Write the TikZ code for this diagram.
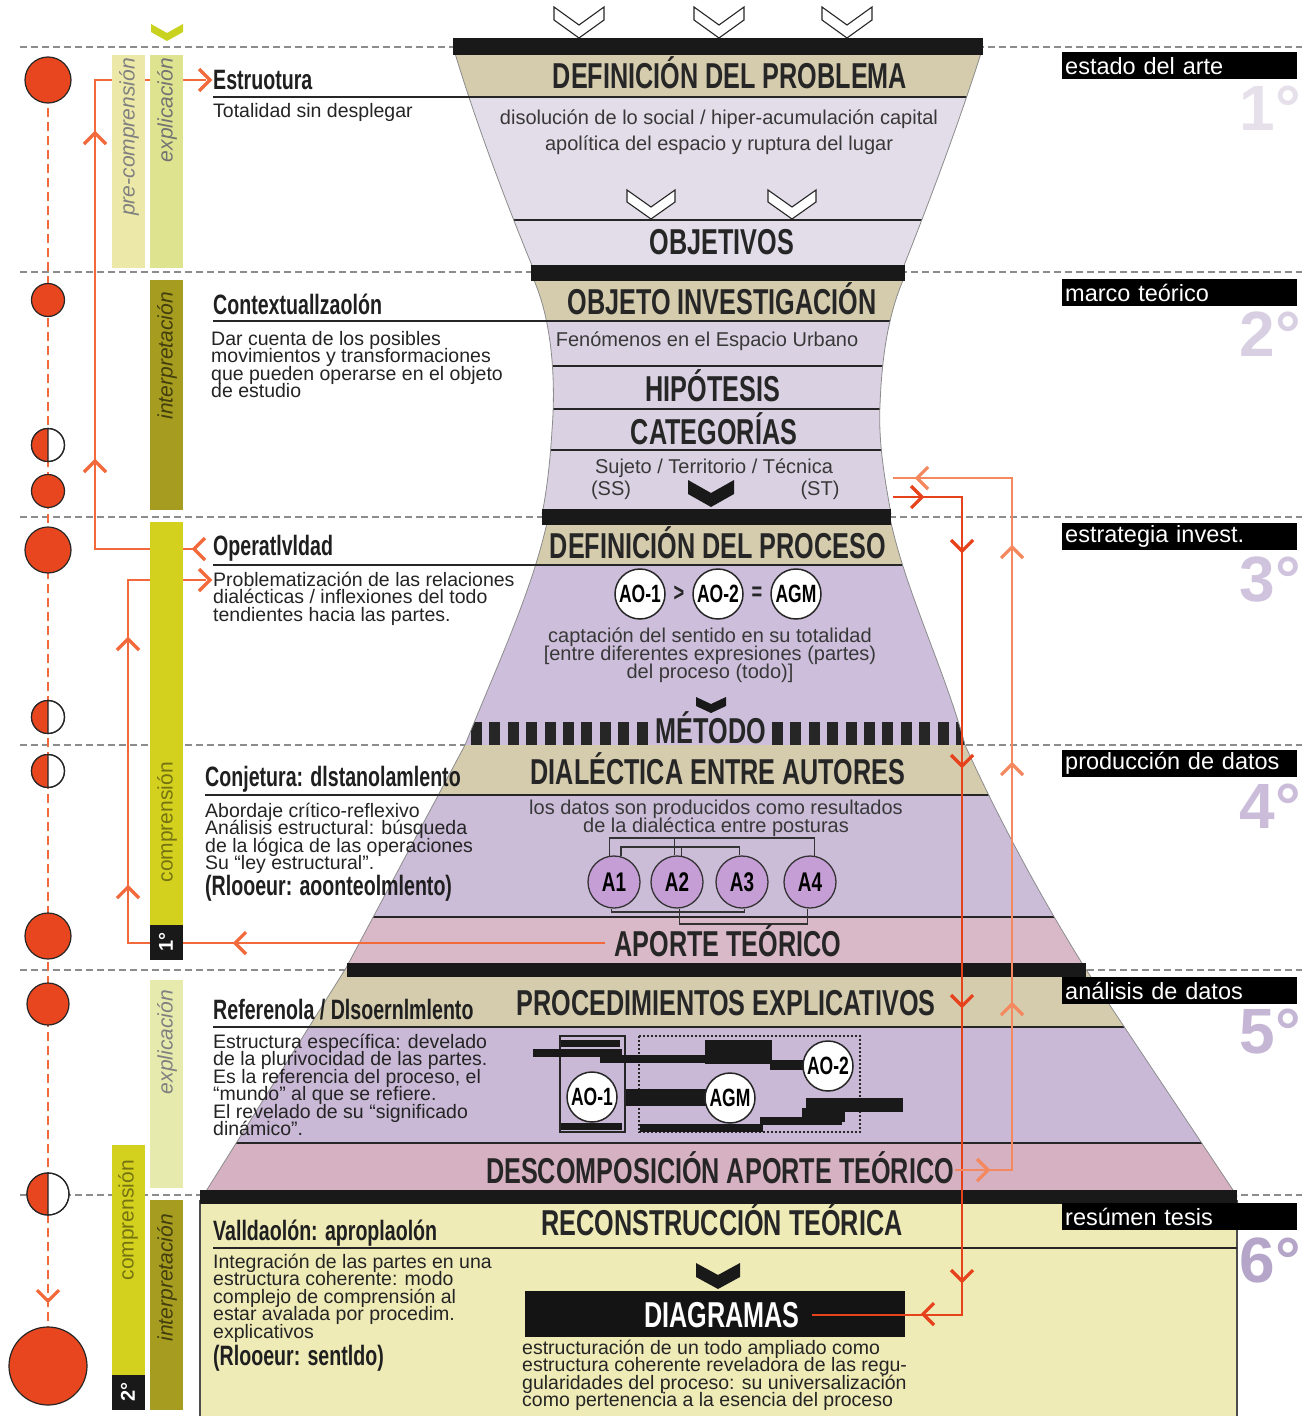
\documentclass[tikz,border=0pt]{standalone}
\usepackage{fontspec}
\setmainfont{Liberation Sans}
\newfontfamily\hfont[FakeStretch=0.7]{Liberation Sans Bold}
\newfontfamily\bfont{Liberation Sans}
\newfontfamily\ifont{Liberation Sans Italic}
\newfontfamily\nfont{Liberation Sans Bold}
\usetikzlibrary{calc}
\lineskiplimit=-100pt

\definecolor{beige}{HTML}{D5CCAE}
\definecolor{lavA}{HTML}{E2DDE9}
\definecolor{lavB}{HTML}{DAD1E2}
\definecolor{lavC}{HTML}{CDBFDB}
\definecolor{lavD}{HTML}{CBBCD8}
\definecolor{lavE}{HTML}{C9B9D6}
\definecolor{pinkA}{HTML}{D9B9C7}
\definecolor{pinkB}{HTML}{D6B1C1}
\definecolor{ylw}{HTML}{EFEBB7}
\definecolor{orL}{HTML}{F26A3C}
\definecolor{orR}{HTML}{E6421C}
\definecolor{orP}{HTML}{F4895F}
\definecolor{circ}{HTML}{E8461E}
\definecolor{barPale}{HTML}{ECE9A8}
\definecolor{barLime}{HTML}{DEE390}
\definecolor{barOlive}{HTML}{A69C20}
\definecolor{barYel}{HTML}{D4D11E}
\definecolor{chevY}{HTML}{C8D21F}
\definecolor{dashG}{HTML}{8C8C8C}
\definecolor{lilac}{HTML}{C69ED6}
\definecolor{numA}{HTML}{E6E0EB}
\definecolor{numB}{HTML}{D9CFE3}
\definecolor{numC}{HTML}{CFC3DD}
\definecolor{numD}{HTML}{CBBDDA}
\definecolor{numE}{HTML}{C5B6D5}
\definecolor{numF}{HTML}{B5A6C9}

\tikzset{
  hd/.style={font=\hfont\fontsize{36}{36}\selectfont, inner sep=0pt, anchor=base, text=black!85},
  lh/.style={font=\hfont\fontsize{28}{28}\selectfont, inner sep=0pt, anchor=base west, text=black!88},
  txt/.style={font=\bfont\fontsize{19.5}{17.5}\selectfont, inner sep=0pt, anchor=base west, align=left, text=black!86},
  ftxt/.style={font=\bfont\fontsize{20}{18}\selectfont, inner sep=0pt, anchor=base, align=center, text=black!78},
  tag/.style={fill=black, text=white, font=\bfont\fontsize{23.5}{24}\selectfont, anchor=north west, minimum height=27pt, text width=229pt, inner xsep=3pt, inner ysep=0pt, align=left},
  deg/.style={font=\nfont\fontsize{64}{64}\selectfont, inner sep=0pt, anchor=base east},
  barlbl/.style={rotate=90, anchor=east, inner sep=0pt, font=\ifont\fontsize{21}{21}\selectfont},
  dot/.style={circle, draw=black!85, line width=1.2pt, fill=circ, inner sep=0pt},
  aoc/.style={circle, draw=black!85, line width=1.5pt, fill=white, inner sep=0pt, minimum size=#1, font=\hfont\fontsize{25}{25}\selectfont},
  acirc/.style={circle, draw=black!80, line width=1.3pt, fill=lilac, inner sep=0pt, minimum size=52pt, font=\hfont\fontsize{27}{27}\selectfont},
  band/.style={line width=2.6pt, draw=black!85},
  uline/.style={line width=2.6pt, draw=black!85},
  edge/.style={draw=black!45, line width=0.8pt},
  gdash/.style={draw=dashG, line width=1.6pt, dash pattern=on 7pt off 4pt},
  lnk/.style={line width=1.4pt, draw=black!80},
  pics/chv/.style={code={\draw[line width=3.2pt, line join=miter, #1] (-10,-11) -- (1,0) -- (-10,11);}},
}

% half orange / half white phase marker
\newcommand{\halfdisc}[4]{%
  \node[dot, fill=white, minimum size=#4*2pt] (#1) at (#2,#3) {};
  \begin{scope}
    \clip (#2-#4-3,#3-#4-3) rectangle (#2,#3+#4+3);
    \fill[circ] (#2,#3) circle[radius=#4];
  \end{scope}
  \draw[black!85, line width=1.2pt] (#2,#3) circle[radius=#4] (#2,#3-#4) -- (#2,#3+#4);
}
% chevron: x, tip y, half width, height, thickness, fill options
\newcommand{\chevshape}[6]{%
  \fill[#6] (#1-#3,#2-#4) -- (#1,#2-#5) -- (#1+#3,#2-#4) -- (#1+#3,#2-#4+#5) -- (#1,#2) -- (#1-#3,#2-#4+#5) -- cycle;
}

\begin{document}
\begin{tikzpicture}[x=1pt,y=-1pt]
\useasboundingbox (0,0) rectangle (1308,1416);
\fill[white] (0,0) rectangle (1308,1416);

% phase separators
\foreach \yy in {47,272,517,745,970,1195} {\draw[gdash] (20,\yy) -- (1302,\yy);}

% ---------- funnel, phase 1 ----------
\def\funA{(454,50) .. controls (475,120) and (505,200) .. (533,268) -- (903,268) .. controls (930,200) and (960,120) .. (982,50) -- cycle}
\begin{scope}
  \clip \funA;
  \fill[lavA] (400,40) rectangle (1000,270);
  \fill[beige] (400,40) rectangle (1000,97);
  \draw[band] (400,97) -- (1000,97);
  \draw[band] (400,220) -- (1000,220);
\end{scope}
\draw[edge] \funA;

% ---------- funnel, phase 2 ----------
\def\funB{(533,278) .. controls (552,320) and (556,380) .. (552,430) .. controls (550,465) and (546,495) .. (542,514) -- (891,514) .. controls (886,485) and (878,445) .. (880,405) .. controls (882,350) and (890,310) .. (904,278) -- cycle}
\begin{scope}
  \clip \funB;
  \fill[lavB] (400,270) rectangle (1000,520);
  \fill[beige] (400,270) rectangle (1000,321);
  \foreach \yy in {321,366,409,450} {\draw[band] (400,\yy) -- (1000,\yy);}
\end{scope}
\draw[edge] \funB;

% ---------- funnel, phases 3 to 5 ----------
\def\funC{(548,518) .. controls (533,590) and (495,670) .. (465,745) -- (346,968) -- (203,1196) -- (1237,1196) -- (1085,968) .. controls (1030,880) and (990,800) .. (965,745) .. controls (945,670) and (905,590) .. (890,518) -- cycle}
\begin{scope}
  \clip \funC;
  \fill[lavC] (150,510) rectangle (1300,745);
  \fill[beige] (150,510) rectangle (1300,565);
  \fill[beige] (150,745) rectangle (1300,795);
  \fill[lavD] (150,795) rectangle (1300,917);
  \fill[pinkA] (150,917) rectangle (1300,970);
  \fill[beige] (150,970) rectangle (1300,1027);
  \fill[lavE] (150,1027) rectangle (1300,1143);
  \fill[pinkB] (150,1143) rectangle (1300,1200);
  \foreach \i in {0,...,9} {\fill[black!85] (471+\i*18.4,722) rectangle ++(11,23);}
  \foreach \i in {0,...,10} {\fill[black!85] (772+\i*18.4,722) rectangle ++(11,23);}
  \foreach \yy in {565,795,917,1027,1143} {\draw[band] (150,\yy) -- (1300,\yy);}
\end{scope}
\draw[edge] \funC;

% ---------- phase 6 box ----------
\fill[ylw] (200,1196) rectangle (1237,1416);
\draw[black!70, line width=1.3pt] (200,1200) -- (200,1416) (1237,1200) -- (1237,1416);

% thick separators of the funnel
\fill[black!90] (453,38) rectangle (983,55);
\fill[black!90] (531,265) rectangle (905,281);
\fill[black!90] (542,509) rectangle (891,525);
\fill[black!90] (347,963) rectangle (1086,977);
\fill[black!90] (200,1190) rectangle (1237,1204);

% heading underlines running into the funnel
\draw[uline] (213,97) -- (500,97);
\draw[uline] (213,321) -- (560,321);
\draw[uline] (213,565) -- (560,565);
\draw[uline] (205,795) -- (460,795);
\draw[uline] (213,1027) -- (330,1027);
\draw[uline] (213,1248) -- (1237,1248);

% entry chevrons
\foreach \cx in {579,719,847} {\chevshape{\cx}{38}{25}{31}{13}{white, draw=black!85, line width=1.1pt}}
\foreach \cx in {651,792} {\chevshape{\cx}{219}{24}{29}{12}{white, draw=black!85, line width=1.1pt}}
\chevshape{711}{507}{23}{27}{14}{black!90}
\chevshape{711}{713}{15}{16}{9}{black!90}
\chevshape{718}{1289}{22}{26}{14}{black!90}
\chevshape{167}{41}{16}{17}{8}{chevY}

% ---------- funnel texts ----------
\node[hd] (hProb) at (730,88) {DEFINICIÓN DEL PROBLEMA};
\node[ftxt] (tProb) at (719,150) {disolución de lo social / hiper-acumulación capital\\[8pt]apolítica del espacio y ruptura del lugar};
\node[hd] (hObj) at (722,254) {OBJETIVOS};
\node[hd] (hOI) at (722,314) {OBJETO INVESTIGACIÓN};
\node[ftxt] (tFen) at (707,346) {Fenómenos en el Espacio Urbano};
\node[hd] (hHip) at (713,401) {HIPÓTESIS};
\node[hd] (hCat) at (714,444) {CATEGORÍAS};
\node[ftxt] (tSuj) at (714,473) {Sujeto / Territorio / Técnica};
\node[ftxt] (tSS) at (611,495) {(SS)};
\node[ftxt] (tST) at (820,495) {(ST)};
\node[hd] (hDP) at (718,558) {DEFINICIÓN DEL PROCESO};
\node[aoc=50pt] (p1) at (640,594) {AO-1};
\node[aoc=50pt] (p2) at (718,594) {AO-2};
\node[aoc=50pt] (p3) at (796,594) {AGM};
\node[font=\hfont\fontsize{26}{26}\selectfont, inner sep=0pt, text=black!85] (gt) at (679,594) {>};
\node[font=\hfont\fontsize{26}{26}\selectfont, inner sep=0pt, text=black!85] (eq) at (757,594) {=};
\node[ftxt] (tCap) at (710,678) {captación del sentido en su totalidad\\{}[entre diferentes expresiones (partes)\\del proceso (todo)]};
\node[hd] (hMet) at (711,743) {MÉTODO};
\node[hd] (hDia) at (718,784) {DIALÉCTICA ENTRE AUTORES};
\node[ftxt] (tDat) at (716,832) {los datos son producidos como resultados\\de la dialéctica entre posturas};

\node[acirc] (A1) at (614,882) {A1};
\node[acirc] (A2) at (677,882) {A2};
\node[acirc] (A3) at (742,882) {A3};
\node[acirc] (A4) at (810,882) {A4};
\draw[lnk] (A1.100) |- (A4.80 |- 0,838) -- (A4.80);
\draw[lnk] (A2.95) -- (A2.95 |- 0,838);
\draw[lnk] (A1.75) |- (A3.95 |- 0,847) -- (A3.95);
\draw[lnk] (A2.80) -- (A2.80 |- 0,847);
\draw[lnk] (A1.265) |- (A3.275 |- 0,912) -- (A3.275);
\draw[lnk] (A2.275) |- (A4.265 |- 0,924) -- (A4.265);

\node[hd] (hApo) at (728,956) {APORTE TEÓRICO};
\node[hd] (hProc) at (726,1015) {PROCEDIMIENTOS EXPLICATIVOS};

% explanatory procedures scheme
\draw[black!85, line width=1.3pt] (560,1036) rectangle (625,1132);
\draw[black!85, line width=1.3pt, dash pattern=on 2pt off 2pt] (639,1036) rectangle (860,1132);
\fill[black!90] (533,1049) rectangle (622,1057);
\fill[black!90] (561,1040) rectangle (620,1047);
\fill[black!90] (600,1055) rectangle (706,1063);
\fill[black!90] (705,1040) rectangle (772,1064);
\fill[black!90] (770,1060) rectangle (805,1070);
\fill[black!90] (626,1089) rectangle (706,1106);
\fill[black!90] (806,1098) rectangle (903,1112);
\fill[black!90] (802,1108) rectangle (845,1122);
\fill[black!90] (760,1117) rectangle (842,1125);
\fill[black!90] (640,1124) rectangle (763,1132);
\fill[black!90] (561,1123) rectangle (622,1130);
\node[aoc=50pt] (q1) at (592,1097) {AO-1};
\node[aoc=50pt] (q2) at (730,1098) {AGM};
\node[aoc=50pt] (q3) at (828,1066) {AO-2};

\node[hd] (hDesc) at (720,1183) {DESCOMPOSICIÓN APORTE TEÓRICO};
\node[hd] (hRec) at (722,1235) {RECONSTRUCCIÓN TEÓRICA};
\fill[black!92] (525,1291) rectangle (905,1337);
\node[hd, text=white] (hDiag) at (722,1327) {DIAGRAMAS};
\node[txt] (tEst) at (522,1406.5) {estructuración de un todo ampliado como\\estructura coherente reveladora de las regu-\\gularidades del proceso: su universalización\\como pertenencia a la esencia del proceso};

% ---------- right loops ----------
\coordinate (rA1) at (893,497);
\coordinate (rA2) at (962,497);
\draw[orR, line width=2pt] (rA1) -- (rA2) -- (rA2 |- hDiag.east) -- ([xshift=12pt]hDiag.east);
\pic at (921,497) {chv=orR};
\foreach \yy in {550,765,1005,1280} {\pic[rotate=-90] at (962,\yy) {chv=orR};}
\pic[rotate=180] at (924,1314) {chv=orR};

\coordinate (descR) at (955,1170);
\coordinate (rB2) at (1012,478);
\coordinate (rB1) at (893,478);
\draw[orP, line width=2pt] (descR) -- (rB2 |- descR) -- (rB2) -- (rB1);
\pic at (987,1170) {chv=orP};
\foreach \yy in {548,765,1005} {\pic[rotate=90] at (1012,\yy) {chv=orP};}
\pic[rotate=180] at (918,478) {chv=orP};

% ---------- phase tags and numbers ----------
\node[tag] (g1) at (1062,52) {estado del arte};
\node[tag] (g2) at (1062,279) {marco teórico};
\node[tag] (g3) at (1062,523) {estrategia invest.};
\node[tag] (g4) at (1062,750) {producción de datos};
\node[tag] (g5) at (1062,977) {análisis de datos};
\node[tag] (g6) at (1062,1203) {resúmen tesis};
\node[deg, text=numA] (n1) at (1301,130) {1°};
\node[deg, text=numB] (n2) at (1301,356) {2°};
\node[deg, text=numC] (n3) at (1301,601) {3°};
\node[deg, text=numD] (n4) at (1301,828) {4°};
\node[deg, text=numE] (n5) at (1301,1053) {5°};
\node[deg, text=numF] (n6) at (1301,1282) {6°};

% ---------- left loops ----------
\coordinate (opIn) at (196,549);
\coordinate (c1a) at (95,549);
\coordinate (c1b) at (95,80);
\coordinate (estIn) at (206,80);
\draw[orL, line width=1.6pt] (opIn) -- (c1a) -- (c1b) -- (estIn);
\pic[rotate=180] at (195,549) {chv=orL};
\pic at (209,80) {chv=orL};
\pic[rotate=90] at (95,134) {chv=orL};
\pic[rotate=90] at (95,462) {chv=orL};

\coordinate (apoIn) at (605,943);
\coordinate (c2a) at (128,943);
\coordinate (c2b) at (128,580);
\coordinate (probIn) at (206,580);
\draw[orL, line width=1.6pt] (apoIn) -- (c2a) -- (c2b) -- (probIn);
\pic[rotate=180] at (236,943) {chv=orL};
\pic[rotate=90] at (128,888) {chv=orL};
\pic[rotate=90] at (128,640) {chv=orL};
\pic at (209,580) {chv=orL};

% ---------- phase markers ----------
\coordinate (vTop) at (48,80);
\coordinate (vBot) at (48,1366);
\draw[orL, line width=1.6pt, dash pattern=on 9pt off 5pt] (vTop) -- (vBot);
\pic[rotate=-90] at (48,1300) {chv=orL};
\node[dot, minimum size=46pt] (d1) at (48,80) {};
\node[dot, minimum size=33pt] (d2) at (48,300) {};
\halfdisc{d3}{48}{445}{16.5}
\node[dot, minimum size=33pt] (d4) at (48,491) {};
\node[dot, minimum size=46pt] (d5) at (48,550) {};
\halfdisc{d6}{48}{717}{16.5}
\halfdisc{d7}{48}{771}{16.5}
\node[dot, minimum size=46pt] (d8) at (48,936) {};
\node[dot, minimum size=42pt] (d9) at (48,1004) {};
\halfdisc{d10}{48}{1194}{21}
\node[dot, minimum size=78pt] (d11) at (48,1366) {};

% ---------- moment bars ----------
\fill[barPale] (112,55) rectangle (145,268);
\fill[barLime] (150,55) rectangle (183,268);
\fill[barOlive] (150,280) rectangle (183,510);
\fill[barYel] (150,522) rectangle (183,960);
\fill[black!90] (150,925) rectangle (183,960);
\fill[barLime!75!white] (150,980) rectangle (183,1188);
\fill[barYel] (112,1145) rectangle (145,1410);
\fill[black!90] (112,1375) rectangle (145,1410);
\fill[barOlive] (150,1200) rectangle (183,1410);
\node[barlbl, text=black!50] (b1) at (129,58) {pre-comprensión};
\node[barlbl, text=black!55] (b2) at (167,58) {explicación};
\node[barlbl, text=black!60!barOlive] (b3) at (167,292) {interpretación};
\node[barlbl, text=black!45!barYel, font=\bfont\fontsize{21}{21}\selectfont] (b4) at (167,762) {comprensión};
\node[barlbl, text=black!50] (b5) at (167,990) {explicación};
\node[barlbl, text=black!45!barYel, font=\bfont\fontsize{21}{21}\selectfont] (b6) at (128,1160) {comprensión};
\node[barlbl, text=black!60!barOlive] (b7) at (167,1214) {interpretación};
\node[rotate=90, text=white, font=\nfont\fontsize{20}{20}\selectfont, inner sep=0pt] (m1) at (166,942) {1°};
\node[rotate=90, text=white, font=\nfont\fontsize{20}{20}\selectfont, inner sep=0pt] (m2) at (128,1392) {2°};

% ---------- left texts (multi-line blocks sit on their last baseline) ----------
\node[lh] (est) at (213,89) {Estruotura};
\node[txt] (estT) at (213,117) {Totalidad sin desplegar};
\node[lh] (ctx) at (213,314) {Contextuallzaolón};
\node[txt] (ctxT) at (211,397.5) {Dar cuenta de los posibles\\movimientos y transformaciones\\que pueden operarse en el objeto\\de estudio};
\node[lh] (op) at (213,555) {Operatlvldad};
\node[txt] (probT) at (213,621) {Problematización de las relaciones\\dialécticas / inflexiones del todo\\tendientes hacia las partes.};
\node[lh] (conj) at (205,786) {Conjetura: dlstanolamlento};
\node[txt] (conjT) at (205,869.5) {Abordaje crítico-reflexivo\\Análisis estructural: búsqueda\\de la lógica de las operaciones\\Su “ley estructural”.};
\node[lh] (ric1) at (205,895) {(Rlooeur: aoonteolmlento)};
\node[lh] (ref) at (213,1019) {Referenola / Dlsoernlmlento};
\node[txt] (refT) at (213,1135.5) {Estructura específica: develado\\de la plurivocidad de las partes.\\Es la referencia del proceso, el\\“mundo” al que se refiere.\\El revelado de su “significado\\dinámico”.};
\node[lh] (val) at (213,1240) {Valldaolón: aproplaolón};
\node[txt] (valT) at (213,1338) {Integración de las partes en una\\estructura coherente: modo\\complejo de comprensión al\\estar avalada por procedim.\\explicativos};
\node[lh] (ric2) at (213,1365) {(Rlooeur: sentldo)};
\end{tikzpicture}
\end{document}
